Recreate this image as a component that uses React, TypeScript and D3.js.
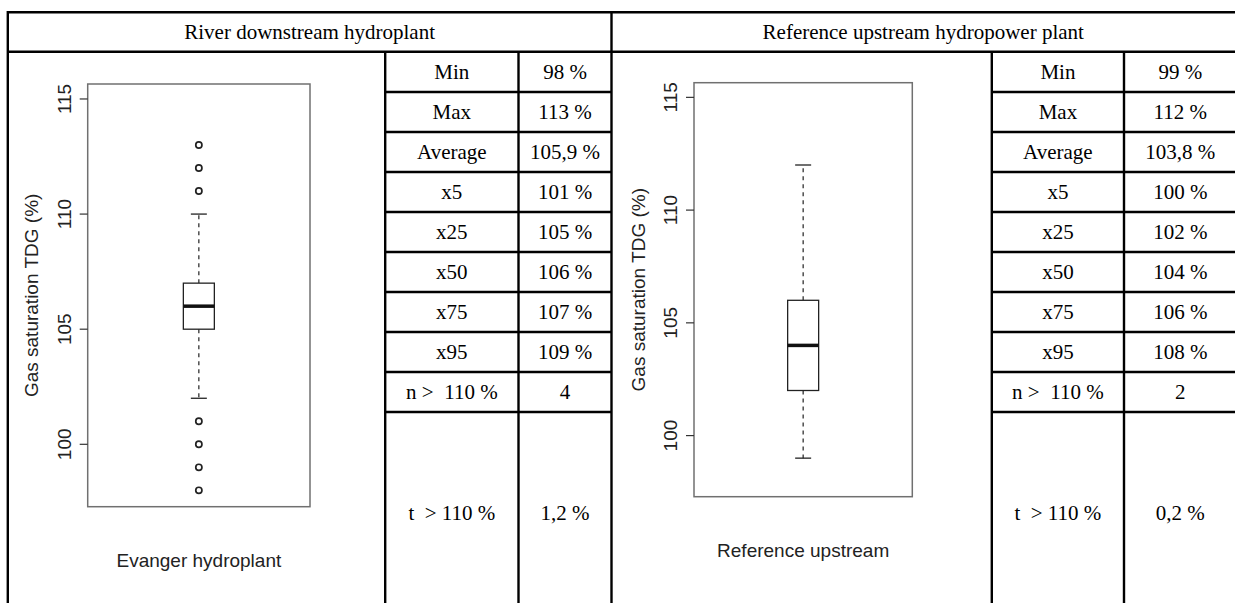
import React from "react";
import * as d3 from "d3";

// Table row labels and values for the two stations
const statLabels = ["Min", "Max", "Average", "x5", "x25", "x50", "x75", "x95", "n >  110 %"];
const tLabel = "t  > 110 %";
const downstreamValues = ["98 %", "113 %", "105,9 %", "101 %", "105 %", "106 %", "107 %", "109 %", "4"];
const downstreamT = "1,2 %";
const upstreamValues = ["99 %", "112 %", "103,8 %", "100 %", "102 %", "104 %", "106 %", "108 %", "2"];
const upstreamT = "0,2 %";

// Boxplot five-number summaries: [lower whisker, Q1, median, Q3, upper whisker]
const downstreamBox = [102, 105, 106, 107, 110];
const downstreamOutliers = [98, 99, 100, 101, 111, 112, 113];
const upstreamBox = [99, 102, 104, 106, 112];
const upstreamOutliers: number[] = [];

const yTicks = [100, 105, 110, 115];
const yDomain = [97.29, 115.65];

const sectionTitles = ["River downstream hydroplant", "Reference upstream hydropower plant"];
const plotNames = ["Evanger hydroplant", "Reference upstream"];
const yTitle = "Gas saturation TDG (%)";

const SERIF = "'Liberation Serif', 'Times New Roman', serif";
const SANS = "'Liberation Sans', Arial, sans-serif";

type PanelProps = {
  x0: number; x1: number; y0: number; y1: number;
  box: number[]; outliers: number[]; name: string;
  tickLabelX: number; titleX: number; nameY: number;
};

function BoxPanel({ x0, x1, y0, y1, box, outliers, name, tickLabelX, titleX, nameY }: PanelProps) {
  const y = d3.scaleLinear().domain(yDomain).range([y1, y0]);
  const cx = (x0 + x1) / 2;
  const bw = 31;
  const cap = 8;
  const [lo, q1, med, q3, hi] = box;
  const ink = "#222";
  return (
    <g>
      <rect x={x0} y={y0} width={x1 - x0} height={y1 - y0} fill="none" stroke="#707070" strokeWidth={1.5} />
      {yTicks.map((t) => (
        <g key={t}>
          <line x1={x0 - 8} x2={x0} y1={y(t)} y2={y(t)} stroke="#333" strokeWidth={1.2} />
          <text
            transform={`translate(${tickLabelX},${y(t)}) rotate(-90)`}
            textAnchor="middle"
            fontFamily={SANS}
            fontSize={19}
            fill={ink}
          >
            {t}
          </text>
        </g>
      ))}
      <text
        transform={`translate(${titleX},${(y0 + y1) / 2}) rotate(-90)`}
        textAnchor="middle"
        fontFamily={SANS}
        fontSize={19}
        fill={ink}
      >
        {yTitle}
      </text>
      {/* whiskers */}
      <line x1={cx} x2={cx} y1={y(q3)} y2={y(hi)} stroke={ink} strokeWidth={1.2} strokeDasharray="4,4" />
      <line x1={cx} x2={cx} y1={y(q1)} y2={y(lo)} stroke={ink} strokeWidth={1.2} strokeDasharray="4,4" />
      <line x1={cx - cap} x2={cx + cap} y1={y(hi)} y2={y(hi)} stroke={ink} strokeWidth={1.3} />
      <line x1={cx - cap} x2={cx + cap} y1={y(lo)} y2={y(lo)} stroke={ink} strokeWidth={1.3} />
      {/* box and median */}
      <rect x={cx - bw / 2} y={y(q3)} width={bw} height={y(q1) - y(q3)} fill="#fff" stroke={ink} strokeWidth={1.3} />
      <line x1={cx - bw / 2} x2={cx + bw / 2} y1={y(med)} y2={y(med)} stroke="#111" strokeWidth={3.5} />
      {outliers.map((v) => (
        <circle key={v} cx={cx} cy={y(v)} r={3.1} fill="none" stroke={ink} strokeWidth={1.7} />
      ))}
      <text x={cx} y={nameY} textAnchor="middle" fontFamily={SANS} fontSize={19} fill={ink}>
        {name}
      </text>
    </g>
  );
}

function StatColumns({ cLeft, cMid, cRight, values, tValue }: { cLeft: number; cMid: number; cRight: number; values: string[]; tValue: string }) {
  const rowTop = 52;
  const rowH = 40;
  const labelX = (cLeft + cMid) / 2;
  const valueX = (cMid + cRight) / 2;
  return (
    <g fontFamily={SERIF} fontSize={21} fill="#000">
      {statLabels.map((lab, i) => (
        <g key={lab}>
          <text x={labelX} y={rowTop + rowH * i + rowH / 2} dy="0.35em" textAnchor="middle" style={{ whiteSpace: "pre" }}>
            {lab}
          </text>
          <text x={valueX} y={rowTop + rowH * i + rowH / 2} dy="0.35em" textAnchor="middle" style={{ whiteSpace: "pre" }}>
            {values[i]}
          </text>
          <line x1={cLeft} x2={cRight} y1={rowTop + rowH * (i + 1)} y2={rowTop + rowH * (i + 1)} stroke="#000" strokeWidth={2.4} />
        </g>
      ))}
      <text x={labelX} y={513} dy="0.35em" textAnchor="middle" style={{ whiteSpace: "pre" }}>
        {tLabel}
      </text>
      <text x={valueX} y={513} dy="0.35em" textAnchor="middle">
        {tValue}
      </text>
      <line x1={cLeft} x2={cLeft} y1={52} y2={603} stroke="#000" strokeWidth={2.4} />
      <line x1={cMid} x2={cMid} y1={52} y2={603} stroke="#000" strokeWidth={2.4} />
    </g>
  );
}

export default function App() {
  const W = 1235;
  const H = 603;
  const left = 7.8;
  const mid = 611.5;
  const right = 1236.5;
  return (
    <svg width={W} height={H} style={{ position: "absolute", left: 0, top: 0, background: "#fff" }}>
      <rect x={0} y={0} width={W} height={H} fill="#fff" />
      {/* table frame */}
      <line x1={left} x2={right} y1={12.3} y2={12.3} stroke="#000" strokeWidth={2.4} />
      <line x1={left} x2={right} y1={51.8} y2={51.8} stroke="#000" strokeWidth={2.4} />
      <line x1={left} x2={left} y1={11} y2={H} stroke="#000" strokeWidth={2.4} />
      <line x1={mid} x2={mid} y1={11} y2={H} stroke="#000" strokeWidth={2.4} />
      <line x1={right} x2={right} y1={11} y2={H} stroke="#000" strokeWidth={2.4} />
      <text x={(left + mid) / 2} y={32} dy="0.35em" textAnchor="middle" fontFamily={SERIF} fontSize={21}>
        {sectionTitles[0]}
      </text>
      <text x={(mid + 1235) / 2} y={32} dy="0.35em" textAnchor="middle" fontFamily={SERIF} fontSize={21}>
        {sectionTitles[1]}
      </text>

      <StatColumns cLeft={385.2} cMid={518.5} cRight={mid} values={downstreamValues} tValue={downstreamT} />
      <StatColumns cLeft={991.8} cMid={1124} cRight={right} values={upstreamValues} tValue={upstreamT} />

      <BoxPanel
        x0={87.7} x1={310} y0={84} y1={506.7}
        box={downstreamBox} outliers={downstreamOutliers} name={plotNames[0]}
        tickLabelX={70.5} titleX={37.5} nameY={567.3}
      />
      <BoxPanel
        x0={694} x1={912.3} y0={82.7} y1={496.7}
        box={upstreamBox} outliers={upstreamOutliers} name={plotNames[1]}
        tickLabelX={676.5} titleX={644.5} nameY={556.7}
      />
    </svg>
  );
}
